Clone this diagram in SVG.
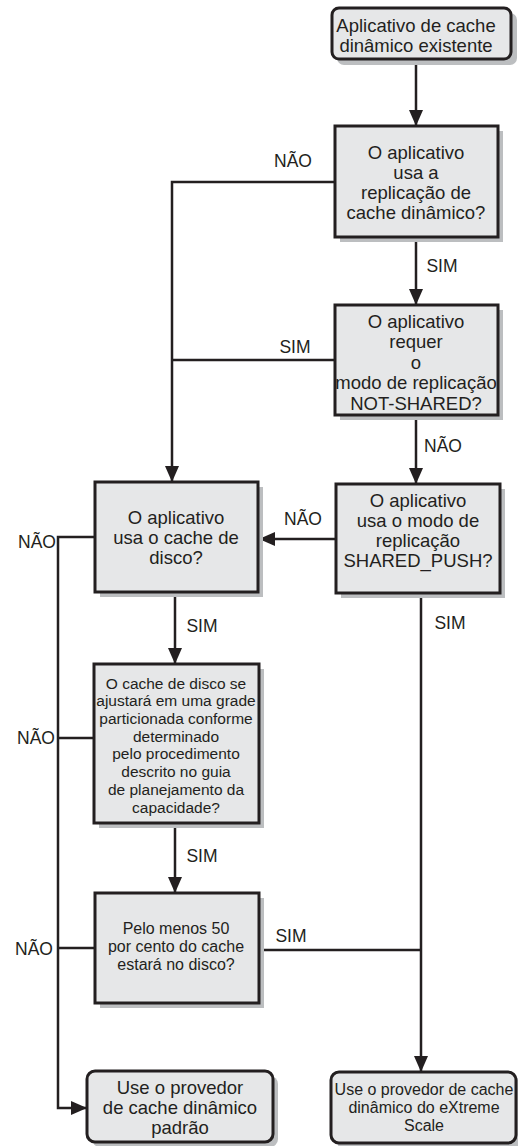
<svg xmlns="http://www.w3.org/2000/svg" width="518" height="1146" viewBox="0 0 518 1146">
<defs>
<style>
.box{fill:#e6e7e8;stroke:#231f20;stroke-width:3}
.sh{fill:#bcbec0}
.t{font-family:"Liberation Sans",Arial,sans-serif;fill:#231f20;text-anchor:middle}
.b{font-size:18.5px}
.s{font-size:15.5px}
.m{font-size:16px}
.l{font-size:17.5px}
.c{fill:none;stroke:#231f20;stroke-width:2.5}
</style>
<marker id="ah" viewBox="0 0 16 14" refX="16" refY="7" markerWidth="16" markerHeight="14" markerUnits="userSpaceOnUse" orient="auto">
<path d="M0,0 L16,7 L0,14 z" fill="#231f20"/>
</marker>
</defs>
<rect width="518" height="1146" fill="#ffffff"/>
<g id="connectors">
<path class="c" d="M416,59 V126" marker-end="url(#ah)"/>
<path class="c" d="M335,182 H172 V482" marker-end="url(#ah)"/>
<path class="c" d="M416,237 V305" marker-end="url(#ah)"/>
<path class="c" d="M335,360 H172"/>
<path class="c" d="M416,415 V484" marker-end="url(#ah)"/>
<path class="c" d="M336,539 H259" marker-end="url(#ah)"/>
<path class="c" d="M95,537 H58 V1108 H87" marker-end="url(#ah)"/>
<path class="c" d="M175,592 V664" marker-end="url(#ah)"/>
<path class="c" d="M94,738 H58"/>
<path class="c" d="M175,823 V893" marker-end="url(#ah)"/>
<path class="c" d="M95,948 H58"/>
<path class="c" d="M421,593 V1072" marker-end="url(#ah)"/>
<path class="c" d="M259,950 H421"/>
<text class="t l" x="293" y="167">NÃO</text>
<text class="t l" x="442" y="272">SIM</text>
<text class="t l" x="295" y="353">SIM</text>
<text class="t l" x="443" y="452">NÃO</text>
<text class="t l" x="303" y="525">NÃO</text>
<text class="t l" x="37" y="548">NÃO</text>
<text class="t l" x="202" y="632">SIM</text>
<text class="t l" x="450" y="629">SIM</text>
<text class="t l" x="36" y="744">NÃO</text>
<text class="t l" x="202" y="862">SIM</text>
<text class="t l" x="34" y="955">NÃO</text>
<text class="t l" x="291" y="942">SIM</text>
</g>
<g id="start">
<rect class="sh" x="337" y="13" width="180" height="52" rx="7"/>
<rect class="box" x="332" y="8" width="179" height="51" rx="7"/>
<text class="t b" x="416" y="31.5">Aplicativo de cache</text>
<text class="t b" x="416" y="51.5">dinâmico existente</text>
</g>
<g id="q1">
<rect class="sh" x="340" y="131" width="163" height="111"/>
<rect class="box" x="335" y="126" width="163" height="111"/>
<text class="t b" x="416" y="159">O aplicativo</text>
<text class="t b" x="416" y="179">usa a</text>
<text class="t b" x="416" y="199">replicação de</text>
<text class="t b" x="416" y="219">cache dinâmico?</text>
</g>
<g id="q2">
<rect class="sh" x="340" y="310" width="163" height="110"/>
<rect class="box" x="335" y="305" width="163" height="110"/>
<text class="t b" x="416" y="327.5">O aplicativo</text>
<text class="t b" x="416" y="348">requer</text>
<text class="t b" x="416" y="368.5">o</text>
<text class="t b" x="416" y="389">modo de replicação</text>
<text class="t b" x="416" y="410">NOT-SHARED?</text>
</g>
<g id="q3">
<rect class="sh" x="341" y="489" width="164" height="109"/>
<rect class="box" x="336" y="484" width="164" height="109"/>
<text class="t b" x="418" y="506.5">O aplicativo</text>
<text class="t b" x="418" y="527">usa o modo de</text>
<text class="t b" x="418" y="547">replicação</text>
<text class="t b" x="418" y="566.5">SHARED_PUSH?</text>
</g>
<g id="q4">
<rect class="sh" x="100" y="487" width="163" height="110"/>
<rect class="box" x="95" y="482" width="163" height="110"/>
<text class="t b" x="176" y="523.5">O aplicativo</text>
<text class="t b" x="176" y="543.5">usa o cache de</text>
<text class="t b" x="176" y="563.5">disco?</text>
</g>
<g id="q5">
<rect class="sh" x="99" y="669" width="165" height="159"/>
<rect class="box" x="94" y="664" width="165" height="159"/>
<text class="t s" x="176" y="688.5">O cache de disco se</text>
<text class="t s" x="176" y="706.3">ajustará em uma grade</text>
<text class="t s" x="176" y="724">particionada conforme</text>
<text class="t s" x="176" y="741.7">determinado</text>
<text class="t s" x="176" y="759.4">pelo procedimento</text>
<text class="t s" x="176" y="777.1">descrito no guia</text>
<text class="t s" x="176" y="794.8">de planejamento da</text>
<text class="t s" x="176" y="812.5">capacidade?</text>
</g>
<g id="q6">
<rect class="sh" x="100" y="898" width="164" height="110"/>
<rect class="box" x="95" y="893" width="164" height="110"/>
<text class="t m" x="176" y="933.5">Pelo menos 50</text>
<text class="t m" x="176" y="951.5">por cento do cache</text>
<text class="t m" x="176" y="969.5">estará no disco?</text>
</g>
<g id="end-default">
<rect class="sh" x="92" y="1076" width="186" height="71" rx="8"/>
<rect class="box" x="87" y="1071" width="186" height="71" rx="8"/>
<text class="t b" x="180" y="1093.5">Use o provedor</text>
<text class="t b" x="180" y="1113.5">de cache dinâmico</text>
<text class="t b" x="180" y="1133.5">padrão</text>
</g>
<g id="end-xs">
<rect class="sh" x="336" y="1077" width="186" height="71" rx="8"/>
<rect class="box" x="331" y="1072" width="185" height="71" rx="8"/>
<text class="t m" x="424" y="1094.5">Use o provedor de cache</text>
<text class="t m" x="424" y="1112.5">dinâmico do eXtreme</text>
<text class="t m" x="424" y="1130.5">Scale</text>
</g>
</svg>
